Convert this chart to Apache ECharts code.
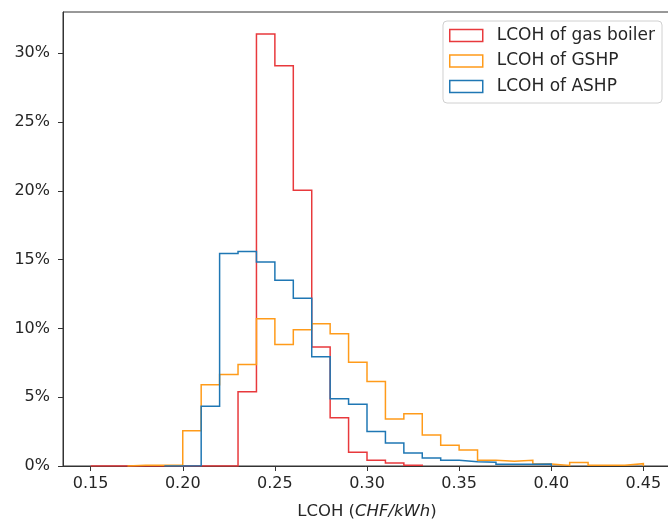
<!DOCTYPE html>
<html>
<head>
<meta charset="utf-8">
<script src="https://cdn.jsdelivr.net/npm/echarts@6/dist/echarts.min.js"></script>
<style>html,body{margin:0;padding:0;background:#fff}#c{width:668px;height:519px}</style>
</head>
<body>
<div id="c"></div>
<script>
// Histogram data (percent of samples per 0.01 CHF/kWh bin)
var binWidth = 0.01;
var gasStart = 0.15;
var gasValues = [0, 0, 0, 0, 0, 0, 0, 0, 5.4, 31.4, 29.1, 20.05, 8.65, 3.5, 1.0, 0.42, 0.22, 0.06];
var gshpStart = 0.17;
var gshpValues = [0.05, 0.05, 0.05, 2.57, 5.9, 6.65, 7.38, 10.7, 8.83, 9.9, 10.34, 9.61, 7.55, 6.15, 3.42, 3.8, 2.25, 1.5, 1.16, 0.42, 0.34, 0.42, 0.15, 0.04, 0.26, 0.05, 0.05, 0.17];
var ashpStart = 0.19;
var ashpValues = [0, 0.02, 4.35, 15.44, 15.6, 14.83, 13.5, 12.2, 7.95, 4.88, 4.48, 2.5, 1.68, 0.95, 0.58, 0.42, 0.31, 0.27, 0.12, 0.12, 0.15];
var seriesNames = ['LCOH of gas boiler', 'LCOH of GSHP', 'LCOH of ASHP'];
var xTicks = [0.15, 0.20, 0.25, 0.30, 0.35, 0.40, 0.45];
var yTicks = [0, 5, 10, 15, 20, 25, 30];

var colors = ['#e8393c', '#ff9b1a', '#1f77b4'];
var font = 'DejaVu Sans';

function stepPoints(start, values) {
  var r = function (v) { return Math.round(v * 10000) / 10000; };
  var pts = [[r(start), 0]];
  for (var i = 0; i < values.length; i++) {
    pts.push([r(start + i * binWidth), values[i]]);
    pts.push([r(start + (i + 1) * binWidth), values[i]]);
  }
  pts.push([r(start + values.length * binWidth), 0]);
  return pts;
}

var datasets = [stepPoints(gasStart, gasValues), stepPoints(gshpStart, gshpValues), stepPoints(ashpStart, ashpValues)];

var chart = echarts.init(document.getElementById('c'), null, {renderer: 'canvas'});
chart.setOption({
  animation: false,
  backgroundColor: '#fff',
  textStyle: {fontFamily: font},
  grid: {left: 63, right: -3, top: 12, bottom: 53, show: true, borderColor: '#333', borderWidth: 1,
    backgroundColor: 'transparent', containLabel: false, outerBoundsMode: 'none'},
  legend: {
    orient: 'vertical',
    right: 6,
    top: 21,
    padding: [6, 7, 8, 6],
    itemGap: 8.5,
    itemWidth: 33,
    itemHeight: 12,
    backgroundColor: 'rgba(255,255,255,0.85)',
    borderColor: '#d0d0d0',
    borderWidth: 1,
    borderRadius: 4,
    icon: 'rect',
    textStyle: {fontFamily: font, fontSize: 17, color: '#262626', padding: [0, 0, 0, 9]},
    data: seriesNames.map(function (n, i) {
      return {name: n, icon: 'rect', itemStyle: {color: '#fff', borderColor: colors[i], borderWidth: 1.5}};
    })
  },
  xAxis: {
    type: 'value',
    min: 0.135,
    max: 0.465,
    name: '{a|LCOH (}{b|CHF/kWh}{a|)}',
    nameLocation: 'middle',
    nameGap: 37,
    nameTextStyle: {
      rich: {
        a: {fontFamily: font, fontSize: 16.5, color: '#262626'},
        b: {fontFamily: font, fontSize: 16.5, color: '#262626', fontStyle: 'italic'}
      }
    },
    axisLine: {show: true, lineStyle: {color: '#333', width: 1}},
    axisTick: {show: true, length: 5, inside: false, lineStyle: {color: '#333'}, customValues: xTicks},
    axisLabel: {fontFamily: font, fontSize: 16, color: '#262626', margin: 10, customValues: xTicks,
      formatter: function (v) { return v.toFixed(2); }},
    splitLine: {show: false}
  },
  yAxis: {
    type: 'value',
    min: 0,
    max: 33.0,
    axisLine: {show: true, lineStyle: {color: '#333', width: 1}},
    axisTick: {show: true, length: 5, inside: false, lineStyle: {color: '#333'}, customValues: yTicks},
    axisLabel: {fontFamily: font, fontSize: 16, color: '#262626', margin: 13, customValues: yTicks,
      formatter: function (v) { return v + '%'; }},
    splitLine: {show: false}
  },
  series: datasets.map(function (d, i) {
    return {
      name: seriesNames[i],
      type: 'line',
      data: d,
      showSymbol: false,
      symbol: 'none',
      color: colors[i],
      lineStyle: {color: colors[i], width: 1.5, join: 'miter'},
      itemStyle: {color: colors[i]},
      z: 2 + i,
      clip: true
    };
  })
});
</script>
</body>
</html>
